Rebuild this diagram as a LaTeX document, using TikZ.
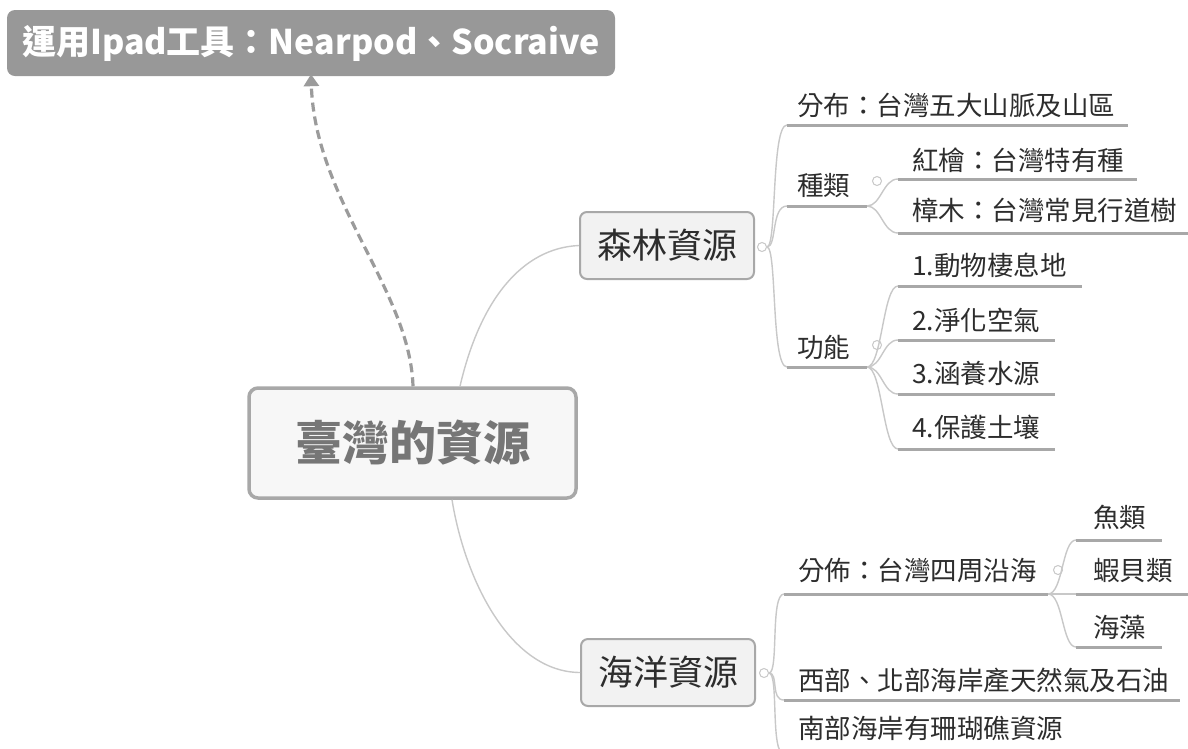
\documentclass[tikz,border=0pt]{standalone}
\usepackage{fontspec}
\setmainfont{Noto Sans CJK TC}
\usetikzlibrary{arrows.meta}
\definecolor{topfill}{RGB}{152,152,152}
\definecolor{txt}{RGB}{45,45,45}
\definecolor{cline}{RGB}{200,200,200}
\definecolor{uline}{RGB}{168,168,168}
\definecolor{cborder}{RGB}{168,168,168}
\definecolor{cfill}{RGB}{247,247,247}
\definecolor{ctext}{RGB}{118,118,118}
\definecolor{bfill}{RGB}{242,242,242}
\definecolor{arrowc}{RGB}{155,155,155}
\begin{document}
\begin{tikzpicture}[x=1pt,y=-1pt,
  lbl/.style={anchor=base west,inner sep=0pt,text=txt,font=\fontsize{26.5}{30}\selectfont},
  trunk/.style={draw=cline,line width=1.4pt},
  uln/.style={draw=uline,line width=3pt},
  knob/.style={circle,draw=cline,fill=white,line width=1pt,minimum size=9pt,inner sep=0pt},
  topicbox/.style={draw=cborder,fill=bfill,line width=2pt,rounded corners=7pt,minimum width=174pt,minimum height=67pt,inner sep=0pt,text=txt,font=\fontsize{35}{40}\selectfont},
  centralbox/.style={draw=cborder,fill=cfill,line width=3.5pt,rounded corners=9pt,minimum width=327pt,minimum height=110pt,inner sep=0pt,text=ctext,font=\bfseries\fontsize{47}{52}\selectfont},
  notebox/.style={fill=topfill,rounded corners=8pt,minimum width=608pt,minimum height=66pt,inner sep=0pt,text=white,font=\bfseries\fontsize{34}{40}\selectfont},
  dasharrow/.style={draw=arrowc,line width=3.2pt,dash pattern=on 9pt off 5pt,-{Triangle[length=12pt,width=15pt]}}
]
\clip (0,0) rectangle (1188,748);
\fill[white] (0,0) rectangle (1188,748);

% main boxes
\node[notebox] (note) at (311,43) {運用Ipad工具：Nearpod、Socraive};
\node[centralbox] (center) at (412.5,443) {\raisebox{-4pt}{臺灣的資源}};
\node[topicbox] (forest) at (667,245.5) {森林資源};
\node[topicbox] (ocean) at (668,672.5) {海洋資源};

% dashed arrow
\draw[dasharrow] ([xshift=0.5pt]center.north) .. controls (410,290) and (315,200) .. ([yshift=2pt]note.south);

% main connectors
\draw[trunk] ([xshift=47.5pt]center.north) .. controls (480,300) and (522,248) .. (forest.west);
\draw[trunk] ([xshift=39.5pt]center.south) .. controls (465,580) and (510,672) .. (ocean.west);

% knobs
\node[knob] (fk) at (762,247) {};
\node[knob] (fk2) at (877,181) {};
\node[knob] (fk3) at (877,345) {};
\node[knob] (ok) at (764,673) {};
\node[knob] (ok1) at (1058,570) {};

% underline coordinates
\coordinate (fu1a) at (787,125);  \coordinate (fu1b) at (1128,125);
\coordinate (fu2a) at (787,206);  \coordinate (fu2b) at (867,206);
\coordinate (fu21a) at (898,179); \coordinate (fu21b) at (1137,179);
\coordinate (fu22a) at (898,233); \coordinate (fu22b) at (1190,233);
\coordinate (fu3a) at (787,367);  \coordinate (fu3b) at (867,367);
\coordinate (fu31a) at (898,286); \coordinate (fu31b) at (1082,286);
\coordinate (fu32a) at (898,340); \coordinate (fu32b) at (1055,340);
\coordinate (fu33a) at (898,394); \coordinate (fu33b) at (1055,394);
\coordinate (fu34a) at (898,449); \coordinate (fu34b) at (1055,449);
\coordinate (ou1a) at (784,594);  \coordinate (ou1b) at (1048,594);
\coordinate (ou11a) at (1076,540); \coordinate (ou11b) at (1162,540);
\coordinate (ou12a) at (1076,594); \coordinate (ou12b) at (1190,594);
\coordinate (ou13a) at (1076,647); \coordinate (ou13b) at (1162,647);
\coordinate (ou2a) at (784,700);  \coordinate (ou2b) at (1180,700);
\coordinate (ou3a) at (784,754);  \coordinate (ou3b) at (1100,754);

% trunks forest
\foreach \t in {fu1a,fu2a,fu3a}
  \draw[trunk] (fk.east) .. controls +(10,0) and +(-16,0) .. (\t);
\foreach \t in {fu21a,fu22a}
  \draw[trunk] (fu2b) .. controls +(14,0) and +(-15,0) .. (\t);
\foreach \t in {fu31a,fu32a,fu33a,fu34a}
  \draw[trunk] (fu3b) .. controls +(15,0) and +(-15,0) .. (\t);
% trunks ocean
\foreach \t in {ou1a,ou2a,ou3a}
  \draw[trunk] (ok.east) .. controls +(10,0) and +(-14,0) .. (\t);
\foreach \t in {ou11a,ou12a,ou13a}
  \draw[trunk] (ou1b) .. controls +(15,0) and +(-14,0) .. (\t);

% underlines
\foreach \u in {fu1,fu2,fu21,fu22,fu3,fu31,fu32,fu33,fu34,ou1,ou11,ou12,ou13,ou2,ou3}
  \draw[uln] (\u a) -- (\u b);

% labels forest
\node[lbl] (f1) at (797,115) {分布：台灣五大山脈及山區};
\node[lbl] (f2) at (797,195) {種類};
\node[lbl] (f21) at (912,170) {紅檜：台灣特有種};
\node[lbl] (f22) at (912,220) {樟木：台灣常見行道樹};
\node[lbl] (f3) at (797,357) {功能};
\node[lbl] (f31) at (912,275) {1.動物棲息地};
\node[lbl] (f32) at (912,330) {2.淨化空氣};
\node[lbl] (f33) at (912,383) {3.涵養水源};
\node[lbl] (f34) at (912,437) {4.保護土壤};
% labels ocean
\node[lbl] (o1) at (798,580) {分佈：台灣四周沿海};
\node[lbl] (o11) at (1093,527) {魚類};
\node[lbl] (o12) at (1093,580) {蝦貝類};
\node[lbl] (o13) at (1093,637) {海藻};
\node[lbl] (o2) at (798,690) {西部、北部海岸產天然氣及石油};
\node[lbl] (o3) at (798,738) {南部海岸有珊瑚礁資源};
\end{tikzpicture}
\end{document}
